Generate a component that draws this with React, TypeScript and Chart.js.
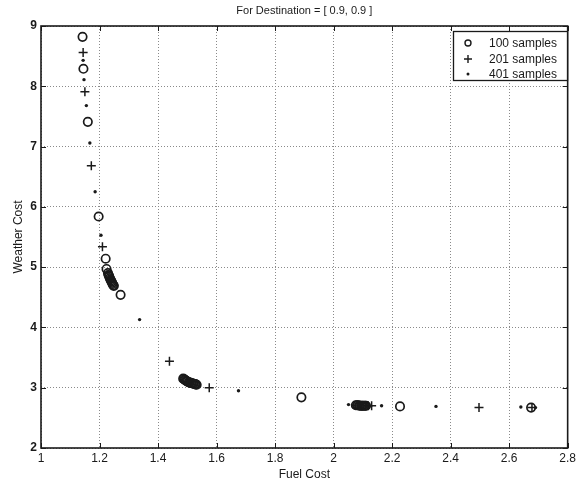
import React, { useEffect, useRef } from "react";
import { Chart, registerables } from "chart.js";

Chart.register(...registerables);

const chartTitle = "For Destination = [ 0.9, 0.9 ]";
const xAxisTitle = "Fuel Cost";
const yAxisTitle = "Weather Cost";
const xTickValues = [1, 1.2, 1.4, 1.6, 1.8, 2, 2.2, 2.4, 2.6, 2.8];
const yTickValues = [2, 3, 4, 5, 6, 7, 8, 9];
const seriesLabels = ["100 samples", "201 samples", "401 samples"];

const samples100X = [1.142, 1.145, 1.16, 1.197, 1.221, 1.224, 1.229, 1.231, 1.233, 1.235, 1.237, 1.239, 1.241, 1.243, 1.245, 1.247, 1.249, 1.272, 1.486, 1.489, 1.492, 1.495, 1.498, 1.501, 1.505, 1.508, 1.512, 1.515, 1.519, 1.522, 1.526, 1.529, 1.532, 1.89, 2.076, 2.08, 2.083, 2.087, 2.09, 2.094, 2.097, 2.1, 2.104, 2.108, 2.111, 2.227, 2.675];
const samples100Y = [8.82, 8.29, 7.41, 5.84, 5.14, 4.97, 4.9, 4.87, 4.85, 4.82, 4.8, 4.78, 4.76, 4.74, 4.72, 4.7, 4.69, 4.54, 3.15, 3.14, 3.13, 3.12, 3.11, 3.1, 3.09, 3.085, 3.08, 3.075, 3.07, 3.065, 3.06, 3.055, 3.05, 2.84, 2.71, 2.71, 2.71, 2.705, 2.7, 2.7, 2.7, 2.7, 2.7, 2.7, 2.7, 2.69, 2.67];

const samples201X = [1.144, 1.15, 1.172, 1.21, 1.236, 1.439, 1.575, 2.118, 2.13, 2.497, 2.678];
const samples201Y = [8.56, 7.91, 6.68, 5.34, 4.8, 3.44, 3.0, 2.7, 2.7, 2.67, 2.67];

const samples401X = [1.144, 1.147, 1.155, 1.167, 1.185, 1.205, 1.226, 1.24, 1.337, 1.675, 2.051, 2.164, 2.35, 2.64, 2.69];
const samples401Y = [8.43, 8.11, 7.68, 7.06, 6.25, 5.53, 4.92, 4.75, 4.13, 2.95, 2.72, 2.7, 2.69, 2.68, 2.67];

const INK = "#1a1a1a";
const FONT = "Arial, 'Liberation Sans', sans-serif";

function zip(xs: number[], ys: number[]) {
  return xs.map((x, i) => ({ x, y: ys[i] }));
}

const matlabPlugin = {
  id: "matlabFrame",
  afterDraw(chart: any) {
    const { ctx, chartArea } = chart;
    const { left, right, top, bottom } = chartArea;
    const xs = chart.scales.x;
    const ys = chart.scales.y;
    ctx.save();
    // frame
    ctx.strokeStyle = INK;
    ctx.lineWidth = 1.6;
    ctx.strokeRect(left, top, right - left, bottom - top);
    // inner ticks
    ctx.lineWidth = 1;
    const tl = 5;
    xTickValues.forEach((v) => {
      const px = Math.round(xs.getPixelForValue(v)) + 0.5;
      ctx.beginPath();
      ctx.moveTo(px, bottom);
      ctx.lineTo(px, bottom - tl);
      ctx.moveTo(px, top);
      ctx.lineTo(px, top + tl);
      ctx.stroke();
    });
    yTickValues.forEach((v) => {
      const py = Math.round(ys.getPixelForValue(v)) + 0.5;
      ctx.beginPath();
      ctx.moveTo(left, py);
      ctx.lineTo(left + tl, py);
      ctx.moveTo(right, py);
      ctx.lineTo(right - tl, py);
      ctx.stroke();
    });
    // title
    ctx.fillStyle = INK;
    ctx.font = `11px ${FONT}`;
    ctx.textAlign = "center";
    ctx.textBaseline = "middle";
    ctx.fillText(chartTitle, (left + right) / 2, 11);
    // legend box
    const bx = 453, by = 31, bw = 114, bh = 49;
    ctx.fillStyle = "#fff";
    ctx.fillRect(bx, by, bw, bh);
    ctx.lineWidth = 1.3;
    ctx.strokeStyle = INK;
    ctx.strokeRect(bx + 0.5, by + 0.5, bw, bh);
    const rows = [43, 59, 74];
    ctx.textAlign = "left";
    ctx.fillStyle = INK;
    ctx.font = `12px ${FONT}`;
    rows.forEach((ry, i) => {
      const mx = 468;
      ctx.lineWidth = 1.4;
      ctx.beginPath();
      if (i === 0) {
        ctx.arc(mx, ry, 3, 0, Math.PI * 2);
        ctx.stroke();
      } else if (i === 1) {
        ctx.moveTo(mx - 4, ry);
        ctx.lineTo(mx + 4, ry);
        ctx.moveTo(mx, ry - 4);
        ctx.lineTo(mx, ry + 4);
        ctx.stroke();
      } else {
        ctx.arc(mx, ry, 1.5, 0, Math.PI * 2);
        ctx.fill();
      }
      ctx.fillText(seriesLabels[i], 489, ry + 0.5);
    });
    ctx.restore();
  },
};

export default function App() {
  const ref = useRef<HTMLCanvasElement | null>(null);
  useEffect(() => {
    if (!ref.current) return;
    const chart = new Chart(ref.current, {
      type: "scatter",
      data: {
        datasets: [
          {
            label: seriesLabels[0],
            data: zip(samples100X, samples100Y),
            pointStyle: "circle",
            pointRadius: 4.2,
            pointBorderWidth: 1.7,
            borderColor: INK,
            backgroundColor: "rgba(0,0,0,0)",
          },
          {
            label: seriesLabels[1],
            data: zip(samples201X, samples201Y),
            pointStyle: "cross",
            pointRadius: 4.5,
            pointBorderWidth: 1.5,
            borderColor: INK,
            backgroundColor: INK,
          },
          {
            label: seriesLabels[2],
            data: zip(samples401X, samples401Y),
            pointStyle: "circle",
            pointRadius: 1.7,
            pointBorderWidth: 0,
            borderColor: INK,
            backgroundColor: INK,
          },
        ],
      },
      options: {
        animation: false,
        responsive: false,
        maintainAspectRatio: false,
        layout: { padding: { left: 0, right: 10, top: 26, bottom: 0 } },
        plugins: {
          legend: { display: false },
          title: { display: false },
          tooltip: { enabled: false },
        },
        scales: {
          x: {
            type: "linear",
            min: 1,
            max: 2.8,
            afterBuildTicks: (axis: any) => {
              axis.ticks = xTickValues.map((v) => ({ value: v }));
            },
            afterFit: (axis: any) => {
              axis.height = 38;
            },
            ticks: {
              color: INK,
              font: { family: FONT, size: 12 },
              padding: 3,
              maxRotation: 0,
              autoSkip: false,
              callback: (v: any) => String(Math.round(Number(v) * 10) / 10),
            },
            grid: { color: "#8a8a8a", lineWidth: 1, drawTicks: false },
            border: { display: false, dash: [1, 2] },
            title: {
              display: true,
              text: xAxisTitle,
              color: INK,
              font: { family: FONT, size: 12 },
              padding: { top: 0, bottom: 4 },
            },
          },
          y: {
            type: "linear",
            min: 2,
            max: 9,
            afterBuildTicks: (axis: any) => {
              axis.ticks = yTickValues.map((v) => ({ value: v }));
            },
            afterFit: (axis: any) => {
              axis.width = 41;
            },
            ticks: {
              color: INK,
              font: { family: FONT, size: 12, weight: "bold" },
              padding: 4,
              autoSkip: false,
              callback: (v: any) => String(v),
            },
            grid: { color: "#8a8a8a", lineWidth: 1, drawTicks: false },
            border: { display: false, dash: [1, 2] },
            title: {
              display: true,
              text: yAxisTitle,
              color: INK,
              font: { family: FONT, size: 12 },
              padding: { top: 11, bottom: 0 },
            },
          },
        },
      },
      plugins: [matlabPlugin],
    } as any);
    return () => chart.destroy();
  }, []);
  return (
    <div style={{ position: "fixed", left: 0, top: 0, width: 579, height: 486, background: "#fff" }}>
      <canvas ref={ref} width={579} height={486} style={{ width: 579, height: 486 }} />
    </div>
  );
}
